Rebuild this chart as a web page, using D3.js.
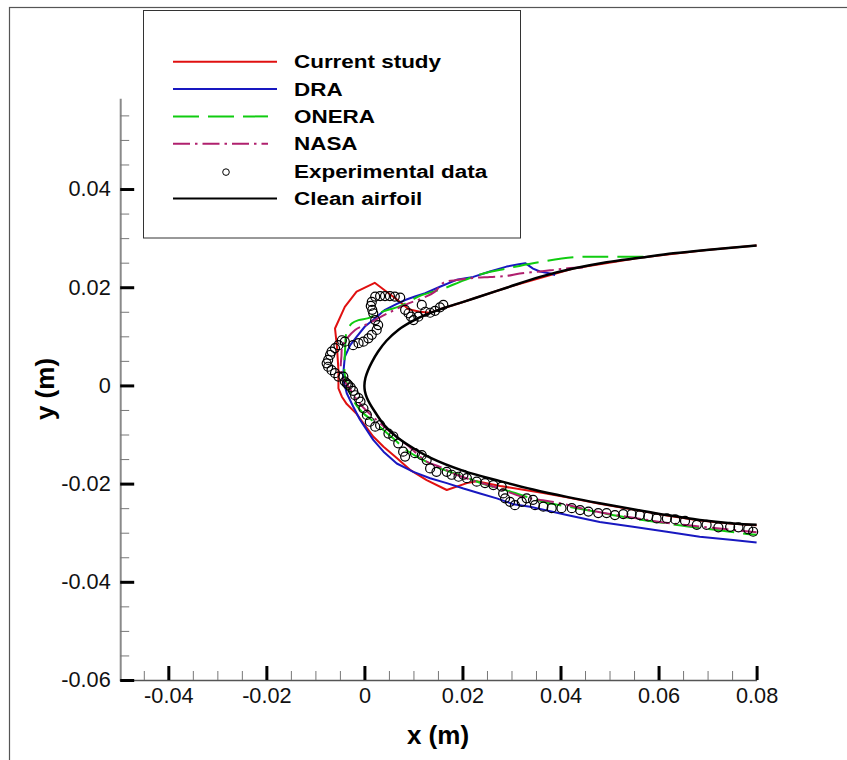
<!DOCTYPE html>
<html>
<head>
<meta charset="utf-8">
<script src="https://cdn.jsdelivr.net/npm/d3@7/dist/d3.min.js"></script>
<style>
  html, body { margin: 0; padding: 0; background: #fff; }
  svg { display: block; font-family: "Liberation Sans", Arial, sans-serif; }
</style>
</head>
<body>
<svg id="chart" width="847" height="760"></svg>
<script>
// Ice accretion shapes around the airfoil leading edge, coordinates in metres [x, y]

const cleanAirfoil = [
  [0.080, 0.0285], [0.0698, 0.0276], [0.063, 0.0269], [0.0562, 0.0260], [0.0494, 0.0251],
  [0.0426, 0.0238], [0.0358, 0.0221], [0.029, 0.0199], [0.0226, 0.0178], [0.0192, 0.0167],
  [0.0157, 0.0156], [0.0123, 0.0143], [0.0096, 0.0130], [0.0069, 0.0113], [0.0045, 0.0091],
  [0.0028, 0.0069], [0.0015, 0.0047], [0.0007, 0.0030], [0.0002, 0.0015], [0.0, 0.0],
  [0.0001, -0.0012], [0.0005, -0.0025], [0.0011, -0.0037], [0.0019, -0.0050], [0.0039, -0.0079],
  [0.0066, -0.0105], [0.0100, -0.0128], [0.0134, -0.0147], [0.0202, -0.0174], [0.0277, -0.0195],
  [0.0344, -0.0212], [0.0413, -0.0227], [0.0480, -0.0240], [0.0548, -0.0252], [0.0617, -0.0264],
  [0.0684, -0.0274], [0.0752, -0.0281], [0.080, -0.0284]
];

const currentStudy = [
  [0.080, 0.0285], [0.0698, 0.0276], [0.0562, 0.0260], [0.0426, 0.0238], [0.029, 0.0199],
  [0.0226, 0.0178], [0.0192, 0.0167], [0.0157, 0.0156], [0.0134, 0.0148], [0.0113, 0.0150],
  [0.0090, 0.0155], [0.0073, 0.0170], [0.0021, 0.0209], [-0.0016, 0.0191], [-0.0040, 0.0160],
  [-0.0060, 0.0116], [-0.0056, 0.0079], [-0.0053, 0.0031], [-0.0053, -0.0006], [-0.0046, -0.0023],
  [-0.0036, -0.0038], [-0.0016, -0.0058], [-0.0002, -0.0077], [0.0018, -0.0104], [0.0039, -0.0125],
  [0.0066, -0.0148], [0.0093, -0.0172], [0.0127, -0.0193], [0.0168, -0.0213], [0.0209, -0.0199],
  [0.0229, -0.0195], [0.0277, -0.0205], [0.0365, -0.0219], [0.0413, -0.0228], [0.0480, -0.0241],
  [0.0548, -0.0253], [0.0617, -0.0265], [0.0684, -0.0275], [0.0752, -0.0282], [0.080, -0.0285]
];

const dra = [
  [0.0389, 0.0225], [0.0379, 0.0228], [0.0358, 0.0232], [0.0344, 0.0238], [0.0328, 0.0249],
  [0.0315, 0.0247], [0.029, 0.0242], [0.0256, 0.0232], [0.0222, 0.0221], [0.0188, 0.0215],
  [0.0154, 0.0201], [0.0124, 0.0188], [0.0103, 0.0181], [0.0083, 0.0174], [0.0062, 0.0164],
  [0.0042, 0.0154], [0.0022, 0.0137], [0.0001, 0.0120], [-0.0016, 0.0099], [-0.0029, 0.0082],
  [-0.0040, 0.0058], [-0.0043, 0.0025], [-0.0043, 0.0011], [-0.0036, -0.0016], [-0.0023, -0.0043],
  [-0.0009, -0.0070], [0.0005, -0.0091], [0.0018, -0.0111], [0.0039, -0.0135], [0.0066, -0.0159],
  [0.0100, -0.0176], [0.0134, -0.0189], [0.0168, -0.0199], [0.0202, -0.0210], [0.0236, -0.0220],
  [0.0270, -0.0230], [0.0304, -0.0242], [0.0338, -0.0247], [0.0413, -0.0264], [0.0480, -0.0278],
  [0.0548, -0.0288], [0.0617, -0.0298], [0.0684, -0.0308], [0.0752, -0.0315], [0.080, -0.0320]
];

const onera = [
  [0.0569, 0.0262], [0.0494, 0.0262], [0.0426, 0.0261], [0.0344, 0.0249], [0.029, 0.0238],
  [0.0243, 0.0228], [0.0195, 0.0211], [0.0171, 0.0201], [0.0151, 0.0194], [0.0130, 0.0188],
  [0.0110, 0.0181], [0.0090, 0.0170], [0.0069, 0.0160], [0.0049, 0.0154], [0.0028, 0.0147],
  [0.0008, 0.0137], [-0.0012, 0.0133], [-0.0026, 0.0126], [-0.0033, 0.0116], [-0.0038, 0.0101],
  [-0.0039, 0.0082], [-0.0040, 0.0062], [-0.0041, 0.0042], [-0.0040, 0.0021], [-0.0033, -0.0005],
  [-0.0025, -0.0026], [-0.0015, -0.0042], [-0.0003, -0.0056], [0.0014, -0.0070], [0.0032, -0.0085],
  [0.0058, -0.0107], [0.0086, -0.0132], [0.0120, -0.0152], [0.0154, -0.0169], [0.0187, -0.0180],
  [0.0222, -0.0193], [0.0256, -0.0205], [0.0297, -0.0216], [0.0365, -0.0237], [0.0433, -0.0250],
  [0.0491, -0.0261], [0.0548, -0.0271], [0.0603, -0.0279], [0.0650, -0.0286], [0.0715, -0.0294],
  [0.0786, -0.0303], [0.080, -0.0304]
];

const nasa = [
  [0.0446, 0.0240], [0.0419, 0.0239], [0.0392, 0.0236], [0.0358, 0.0232], [0.0317, 0.0228],
  [0.029, 0.0223], [0.0256, 0.0221], [0.0222, 0.0219], [0.0192, 0.0215], [0.0161, 0.0209],
  [0.0144, 0.0191], [0.0117, 0.0177], [0.0090, 0.0167], [0.0062, 0.0154], [0.0036, 0.0141],
  [0.0008, 0.0126], [-0.0019, 0.0113], [-0.0044, 0.0082], [-0.0047, 0.0058], [-0.0048, 0.0031],
  [-0.0042, 0.0011], [-0.0031, -0.0005], [-0.0019, -0.0024], [-0.0005, -0.0042], [0.0011, -0.0058],
  [0.0032, -0.0077], [0.0058, -0.0099], [0.0089, -0.0123], [0.0127, -0.0155], [0.0154, -0.0166],
  [0.0188, -0.0182], [0.0226, -0.0195], [0.0266, -0.0207], [0.0323, -0.0227], [0.0364, -0.0234],
  [0.0399, -0.0240], [0.0450, -0.0252], [0.0501, -0.0262], [0.0552, -0.0270], [0.0603, -0.0278],
  [0.0670, -0.0286], [0.0739, -0.0293], [0.080, -0.0299]
];

const experimental = [
  [0.0161, 0.0164], [0.0154, 0.0159], [0.0144, 0.0152], [0.0134, 0.0148], [0.0124, 0.0150],
  [0.0117, 0.0164], [0.0110, 0.0140], [0.0100, 0.0133], [0.0095, 0.0140], [0.0090, 0.0147],
  [0.0083, 0.0154], [0.0073, 0.0179], [0.0062, 0.0181], [0.0052, 0.0182], [0.0042, 0.0182],
  [0.0032, 0.0182], [0.0022, 0.0181], [0.0015, 0.0170], [0.0013, 0.0162], [0.0016, 0.0154],
  [0.0018, 0.0147], [0.0022, 0.0133], [0.0028, 0.0123], [0.0025, 0.0113], [0.0015, 0.0103],
  [0.0008, 0.0096], [-0.0002, 0.0089], [-0.0012, 0.0086], [-0.0023, 0.0082], [-0.0040, 0.0089],
  [-0.0046, 0.0092], [-0.0053, 0.0082], [-0.0060, 0.0076], [-0.0067, 0.0069], [-0.0070, 0.0062],
  [-0.0074, 0.0052], [-0.0077, 0.0045], [-0.0074, 0.0038], [-0.0067, 0.0031], [-0.0060, 0.0025],
  [-0.0053, 0.0018], [-0.0043, 0.0018], [-0.0040, 0.0008], [-0.0036, 0.0004], [-0.0033, 0.0001],
  [-0.0028, -0.0004], [-0.0023, -0.0011], [-0.0019, -0.0020], [-0.0012, -0.0026], [-0.0008, -0.0033],
  [-0.0002, -0.0047], [0.0005, -0.0060], [0.0011, -0.0074], [0.0022, -0.0084], [0.0032, -0.0081],
  [0.0049, -0.0098], [0.0059, -0.0104], [0.0069, -0.0118], [0.0079, -0.0135], [0.0083, -0.0145],
  [0.0103, -0.0138], [0.0117, -0.0142], [0.0127, -0.0152], [0.0134, -0.0169], [0.0147, -0.0176],
  [0.0168, -0.0176], [0.0178, -0.0182], [0.0192, -0.0186], [0.0202, -0.0182], [0.0209, -0.0189],
  [0.0229, -0.0196], [0.0246, -0.0199], [0.0263, -0.0203], [0.0280, -0.0206], [0.0283, -0.0220],
  [0.0287, -0.0230], [0.0297, -0.0237], [0.0307, -0.0244], [0.0321, -0.0237], [0.0331, -0.0230],
  [0.0344, -0.0233], [0.0348, -0.0244], [0.0365, -0.0247], [0.0382, -0.0250], [0.0402, -0.0250],
  [0.0423, -0.0250], [0.0440, -0.0254], [0.0457, -0.0257], [0.0477, -0.0260], [0.0494, -0.0260],
  [0.0511, -0.0264], [0.0528, -0.0262], [0.0545, -0.0262], [0.0562, -0.0264], [0.0579, -0.0267],
  [0.0596, -0.0271], [0.0617, -0.0271], [0.0634, -0.0273], [0.0654, -0.0276], [0.0678, -0.0284],
  [0.0698, -0.0284], [0.0722, -0.0289], [0.0746, -0.0288], [0.0763, -0.0289], [0.0783, -0.0293],
  [0.0793, -0.0298]
];

const xTickValues = [-0.04, -0.02, 0, 0.02, 0.04, 0.06, 0.08];
const xTickLabels = ["-0.04", "-0.02", "0", "0.02", "0.04", "0.06", "0.08"];
const yTickValues = [-0.06, -0.04, -0.02, 0, 0.02, 0.04];
const yTickLabels = ["-0.06", "-0.04", "-0.02", "0", "0.02", "0.04"];

const legendLabels = ["Current study", "DRA", "ONERA", "NASA", "Experimental data", "Clean airfoil"];

// ---------------------------------------------------------------------------

const svg = d3.select("#chart");
const FONT = "'Liberation Sans', Arial, Helvetica, sans-serif";

const x = d3.scaleLinear().domain([-0.05, 0.08]).range([119.3, 756.6]);
const y = d3.scaleLinear().domain([-0.06, 0.0585]).range([680, 98.2]);

// outer frame
svg.append("rect")
  .attr("x", 9.5).attr("y", 7.5).attr("width", 1000).attr("height", 1000)
  .attr("fill", "none").attr("stroke", "#555").attr("stroke-width", 1.2);

const styles = {
  current: { color: "#e01010", width: 2,   dash: null },
  dra:     { color: "#1818c0", width: 2,   dash: null },
  onera:   { color: "#10cc10", width: 2,   dash: "26,9" },
  nasa:    { color: "#b0206e", width: 2,   dash: "17,5,2.5,5" },
  clean:   { color: "#000000", width: 2.5, dash: null }
};

// axes: minor ticks first, then labelled major ticks
const minorX = d3.range(-0.045, 0.0801, 0.005).filter(v => Math.abs(Math.round(v / 0.02) * 0.02 - v) > 1e-6);
const minorY = d3.range(-0.055, 0.0551, 0.005).filter(v => Math.abs(Math.round(v / 0.02) * 0.02 - v) > 1e-6);

const gx = svg.append("g").attr("transform", "translate(0,680)");
gx.append("g")
  .call(d3.axisBottom(x).tickValues(minorX).tickSizeInner(-9).tickSizeOuter(0).tickFormat(""))
  .call(g => g.select(".domain").attr("stroke", "#555").attr("stroke-width", 1.5))
  .call(g => g.selectAll(".tick line").attr("stroke", "#777").attr("stroke-width", 1));
gx.append("g")
  .call(d3.axisBottom(x).tickValues(xTickValues).tickSizeInner(-14).tickSizeOuter(0).tickPadding(8)
    .tickFormat((d, i) => xTickLabels[i]))
  .call(g => g.select(".domain").remove())
  .call(g => g.selectAll(".tick line").attr("stroke", "#000").attr("stroke-width", 3))
  .call(g => g.selectAll(".tick text").attr("font-family", FONT).attr("font-size", 21.7).attr("fill", "#111"));

const gy = svg.append("g").attr("transform", "translate(120.2,0)");
gy.append("g")
  .call(d3.axisLeft(y).tickValues(minorY).tickSizeInner(-9).tickSizeOuter(0).tickFormat(""))
  .call(g => g.select(".domain").attr("stroke", "#8a8a8a").attr("stroke-width", 2))
  .call(g => g.selectAll(".tick line").attr("stroke", "#777").attr("stroke-width", 1));
gy.append("g")
  .call(d3.axisLeft(y).tickValues(yTickValues).tickSizeInner(-14).tickSizeOuter(0).tickPadding(9.5)
    .tickFormat((d, i) => yTickLabels[i]))
  .call(g => g.select(".domain").remove())
  .call(g => g.selectAll(".tick line").attr("stroke", "#000").attr("stroke-width", 3))
  .call(g => g.selectAll(".tick text").attr("font-family", FONT).attr("font-size", 21.7).attr("fill", "#111"));

// axis titles
svg.append("text")
  .attr("x", 438).attr("y", 743.5).attr("text-anchor", "middle")
  .attr("font-family", FONT).attr("font-weight", "bold").attr("font-size", 26)
  .text("x (m)");
svg.append("text")
  .attr("transform", "translate(54,389) rotate(-90)").attr("text-anchor", "middle")
  .attr("font-family", FONT).attr("font-weight", "bold").attr("font-size", 26)
  .text("y (m)");

// shape outlines
const line = d3.line().x(d => x(d[0])).y(d => y(d[1]));
const smooth = d3.line().x(d => x(d[0])).y(d => y(d[1])).curve(d3.curveCatmullRom.alpha(0.5));

function drawSeries(data, st, gen) {
  svg.append("path")
    .datum(data)
    .attr("d", gen)
    .attr("fill", "none")
    .attr("stroke", st.color)
    .attr("stroke-width", st.width)
    .attr("stroke-linejoin", "round")
    .attr("stroke-dasharray", st.dash);
}

drawSeries(currentStudy, styles.current, line);
drawSeries(dra, styles.dra, line);
drawSeries(onera, styles.onera, smooth);
drawSeries(nasa, styles.nasa, smooth);
drawSeries(cleanAirfoil, styles.clean, smooth);

svg.append("g").selectAll("circle")
  .data(experimental)
  .join("circle")
  .attr("cx", d => x(d[0]))
  .attr("cy", d => y(d[1]))
  .attr("r", 4.5)
  .attr("fill", "none")
  .attr("stroke", "#000")
  .attr("stroke-width", 1.2);

// legend
const legend = svg.append("g");
legend.append("rect")
  .attr("x", 143.5).attr("y", 10.5).attr("width", 377).attr("height", 227.5)
  .attr("fill", "#fff").attr("stroke", "#333").attr("stroke-width", 1);

const legendStyles = [styles.current, styles.dra, styles.onera, styles.nasa, null, styles.clean];
const legendEnds = [277, 277, 268, 268, 277, 277];

legendLabels.forEach((label, i) => {
  const cy = 61.7 + 27.35 * i;
  const st = legendStyles[i];
  if (st) {
    legend.append("line")
      .attr("x1", 173).attr("x2", legendEnds[i]).attr("y1", cy).attr("y2", cy)
      .attr("stroke", st.color).attr("stroke-width", 2)
      .attr("stroke-dasharray", st.dash);
  } else {
    legend.append("circle")
      .attr("cx", 226).attr("cy", cy + 1).attr("r", 3.3)
      .attr("fill", "none").attr("stroke", "#000").attr("stroke-width", 1);
  }
  legend.append("text")
    .attr("transform", `translate(294,${cy + 6.6}) scale(1.2,1)`)
    .attr("font-family", FONT).attr("font-weight", "bold").attr("font-size", 18.7)
    .attr("fill", "#000")
    .text(label);
});
</script>
</body>
</html>
